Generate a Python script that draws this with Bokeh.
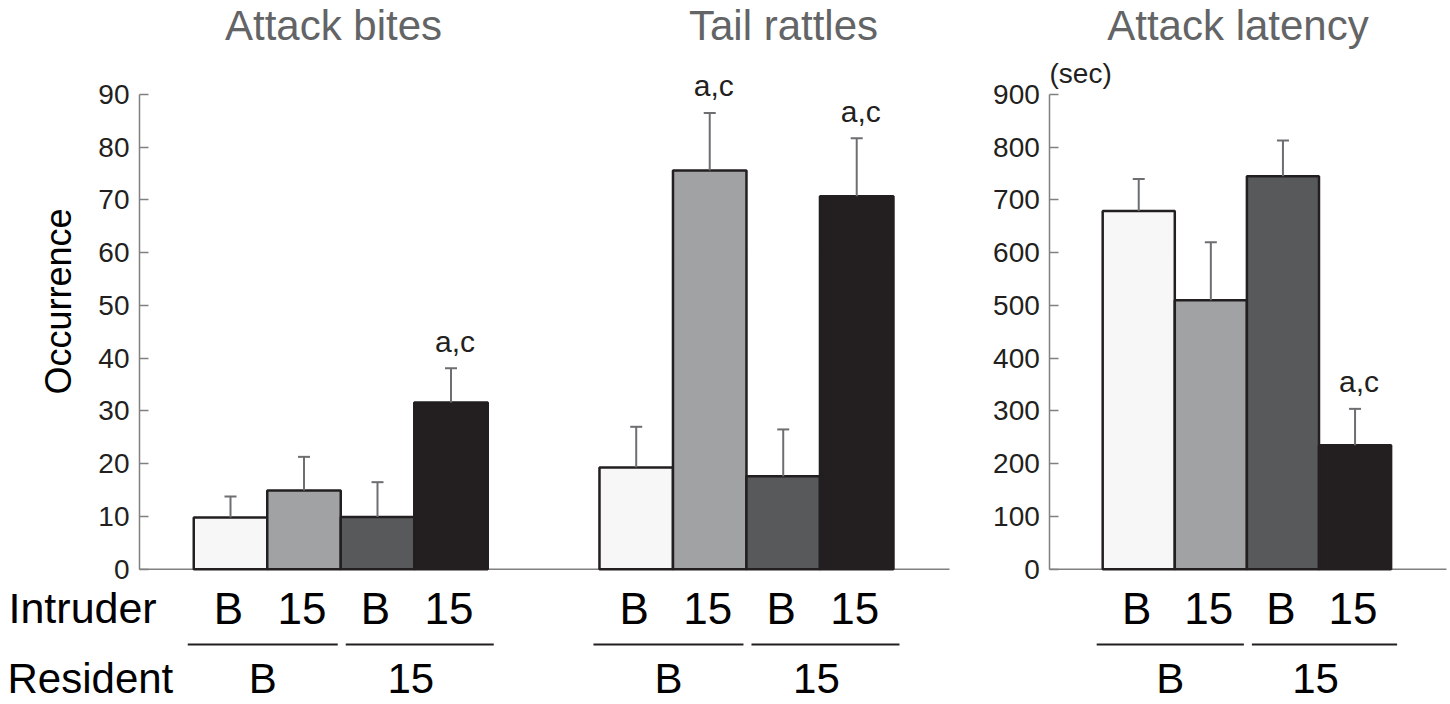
from bokeh.plotting import figure
from bokeh.models import Range1d, LinearAxis, ColumnDataSource, FixedTicker
from bokeh.core.properties import value
from bokeh.embed import file_html
from bokeh.resources import INLINE
import math

# ---------------- data ----------------
panel_titles = ["Attack bites", "Tail rattles", "Attack latency"]
intruder_labels = ["B", "15", "B", "15"]
resident_labels = ["B", "15"]
bar_colors = ["#f7f7f7", "#a1a2a4", "#58595b", "#231f20"]

bites_mean = [9.8, 14.9, 9.9, 31.6]
bites_sem = [4.0, 6.4, 6.6, 6.5]
bites_sig = ["", "", "", "a,c"]

rattles_mean = [19.3, 75.6, 17.6, 70.7]
rattles_sem = [7.7, 10.9, 8.9, 11.0]
rattles_sig = ["", "a,c", "", "a,c"]

latency_mean = [679, 510, 745, 235]
latency_sem = [61, 110, 68, 69]
latency_sig = ["", "", "", "a,c"]

y_ticks_count = list(range(0, 91, 10))
y_ticks_sec = list(range(0, 901, 100))

# ---------------- layout ----------------
W, H = 1450, 704
PX = 73.5          # pixels per x unit
REF_X0 = 230.0     # page x of x=0
REF_Y0 = 568.7     # page y of y=0
PY = 5.2744        # pixels per unit (left scale)


def dx(page_x):
    return (page_x - REF_X0) / PX


def dy(page_y, scale=1.0):
    return (REF_Y0 - page_y) / PY * scale


FONT = value("Liberation Sans")
INK = "#231f20"

p = figure(width=W, height=H, output_backend="svg", toolbar_location=None,
           x_axis_type=None, y_axis_type=None, min_border=0,
           x_range=Range1d(dx(0), dx(W)),
           y_range=Range1d(dy(H), dy(0)))
p.extra_y_ranges = {"lat": Range1d(dy(H, 10), dy(0, 10))}
p.outline_line_color = None
p.grid.visible = False
p.background_fill_color = "white"
p.border_fill_color = "white"

panels = [
    dict(mean=bites_mean, sem=bites_sem, sig=bites_sig, off=0.0, w=1.0, rng="default"),
    dict(mean=rattles_mean, sem=rattles_sem, sig=rattles_sig, off=5.52, w=1.0, rng="default"),
    dict(mean=latency_mean, sem=latency_sem, sig=latency_sig, off=12.357, w=0.981, rng="lat"),
]
title_x = [333, 783, 1237.5]

# baselines
p.segment(x0=[dx(139)], y0=[0], x1=[dx(949)], y1=[0], line_color="#808080", line_width=1.5)
p.segment(x0=[dx(1049.3)], y0=[0], x1=[dx(1446)], y1=[0], line_color="#808080", line_width=1.5,
          y_range_name="lat")

for i, pn in enumerate(panels):
    xs = [pn["off"] + k * pn["w"] for k in range(4)]
    upper = [m + s for m, s in zip(pn["mean"], pn["sem"])]
    src = ColumnDataSource(dict(x=xs, top=pn["mean"], upper=upper, color=bar_colors,
                                sig=pn["sig"], lab=intruder_labels))
    p.vbar(x="x", top="top", bottom=0, width=pn["w"], fill_color="color",
           line_color=INK, line_width=2.5, source=src, y_range_name=pn["rng"])
    # error bars
    p.segment(x0="x", y0="top", x1="x", y1="upper", line_color="#6d6e71", line_width=2,
              source=src, y_range_name=pn["rng"])
    cap = 6.0 / PX
    p.segment(x0=[x - cap for x in xs], y0=upper, x1=[x + cap for x in xs], y1=upper,
              line_color="#6d6e71", line_width=2, y_range_name=pn["rng"])
    # significance letters
    p.text(x="x", y="upper", text="sig", source=src, y_range_name=pn["rng"],
           text_font=FONT, text_font_size="30px", text_color=INK,
           text_align="center", text_baseline="middle", x_offset=4, y_offset=-27)
    # intruder labels
    p.text(x="x", y=dy(607.5), text="lab", source=src,
           text_font=FONT, text_font_size="44px", text_color="black",
           text_align="center", text_baseline="middle", x_offset=-2)
    # group lines
    left = xs[0] - pn["w"] / 2
    right = xs[3] + pn["w"] / 2
    mid = xs[1] + pn["w"] / 2
    gx0 = [left - 6 / PX, mid + 5 / PX]
    gx1 = [mid - 3 / PX, right + 6 / PX]
    p.segment(x0=gx0, y0=[dy(644)] * 2, x1=gx1, y1=[dy(644)] * 2, line_color=INK, line_width=2)
    # resident labels
    p.text(x=[(a + b) / 2 for a, b in zip(gx0, gx1)], y=[dy(678)] * 2, text=resident_labels,
           text_font=FONT, text_font_size="42px", text_color="black",
           text_align="center", text_baseline="middle", x_offset=[0, -9])
    # panel title
    p.text(x=[dx(title_x[i])], y=[dy(24.5)], text=[panel_titles[i]],
           text_font=FONT, text_font_size="42px", text_color="#636466",
           text_align="center", text_baseline="middle")

# row labels
p.text(x=[dx(8)], y=[dy(607.5)], text=["Intruder"], text_font=FONT, text_font_size="43px",
       text_color="black", text_align="left", text_baseline="middle")
p.text(x=[dx(7)], y=[dy(678)], text=["Resident"], text_font=FONT, text_font_size="42px",
       text_color="black", text_align="left", text_baseline="middle")
p.text(x=[dx(58)], y=[dy(301)], text=["Occurrence"], angle=math.pi / 2,
       text_font=FONT, text_font_size="36px", text_color="black",
       text_align="center", text_baseline="middle")
p.text(x=[dx(1049)], y=[dy(72.5, 10)], text=["(sec)"], y_range_name="lat",
       text_font=FONT, text_font_size="28px", text_color=INK,
       text_align="left", text_baseline="middle")


def style_axis(ax):
    ax.axis_line_color = "#808080"
    ax.axis_line_width = 1.5
    ax.major_tick_line_color = "#808080"
    ax.major_tick_line_width = 1.5
    ax.major_tick_in = 9
    ax.major_tick_out = 0
    ax.minor_tick_in = 0
    ax.minor_tick_out = 0
    ax.major_label_text_font = "Liberation Sans"
    ax.major_label_text_font_size = "28px"
    ax.major_label_text_color = INK
    ax.major_label_standoff = 10


yl = LinearAxis(fixed_location=dx(139), bounds=(0, 90), ticker=FixedTicker(ticks=y_ticks_count))
style_axis(yl)
p.add_layout(yl, "left")
yr = LinearAxis(y_range_name="lat", fixed_location=dx(1049.3), bounds=(0, 900),
                ticker=FixedTicker(ticks=y_ticks_sec))
style_axis(yr)
p.add_layout(yr, "left")

open("out.html", "w").write(file_html(p, INLINE))
